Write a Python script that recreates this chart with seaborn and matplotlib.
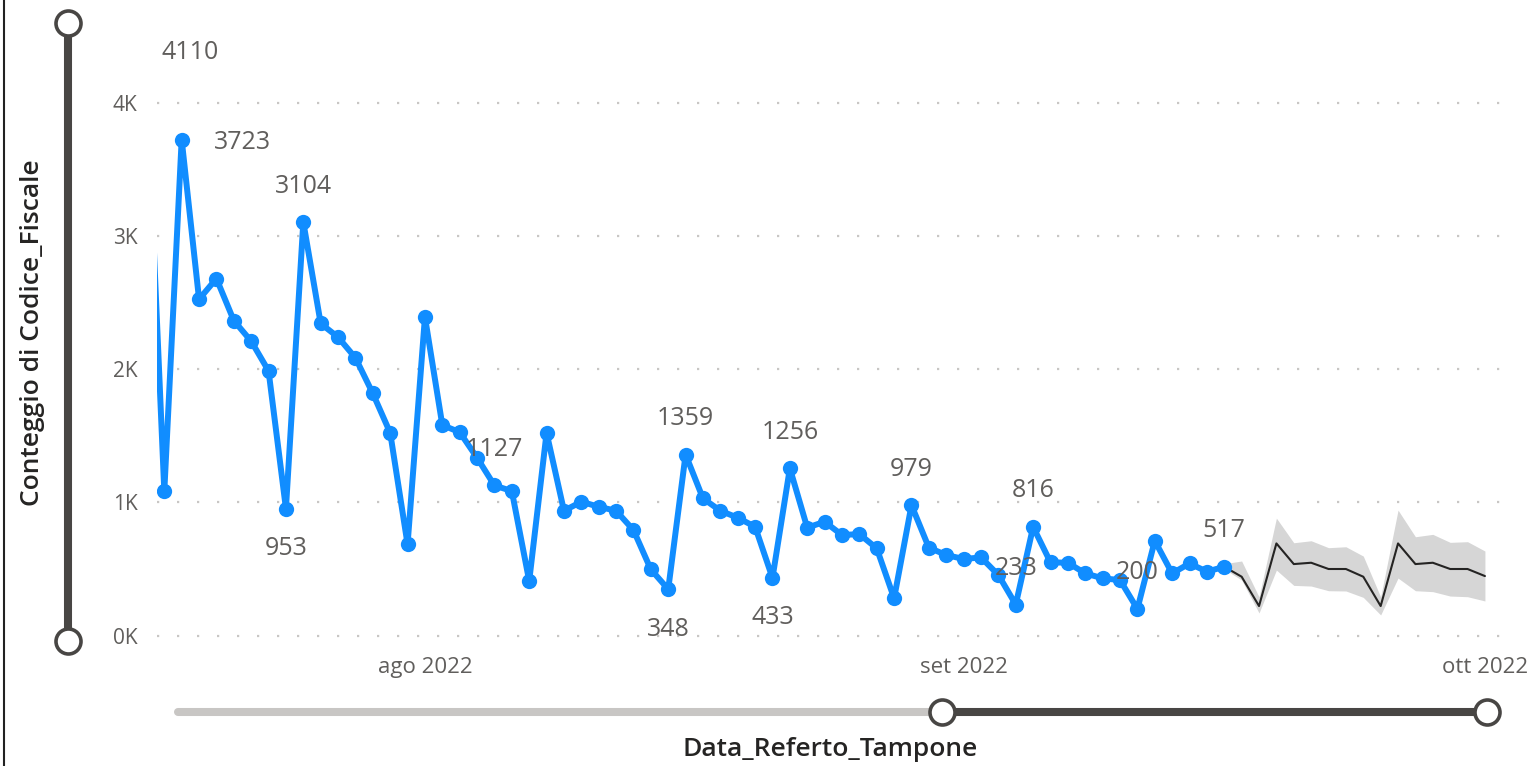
import matplotlib
matplotlib.use("Agg")
import matplotlib.pyplot as plt
import matplotlib.dates as mdates
import seaborn as sns
import pandas as pd
import numpy as np

# daily counts, 16 Jul -> 16 Sep 2022
counts = [4110, 1083, 3723, 2525, 2680, 2365, 2210, 1987, 953, 3104, 2343, 2240, 2085, 1818, 1522, 685,
          2392, 1580, 1527, 1335, 1127, 1085, 410, 1522, 937, 1005, 967, 937, 792, 497, 348, 1359,
          1030, 937, 885, 817, 433, 1256, 810, 855, 755, 762, 655, 280, 979, 660, 605,
          575, 587, 455, 233, 816, 550, 547, 467, 430, 417, 200, 712, 467, 542, 480, 517]
dates = pd.date_range("2022-07-16", periods=len(counts), freq="D")

# forecast 16 Sep -> 1 Oct 2022
fc_values = [517, 442, 222, 692, 537, 547, 500, 500, 442, 222, 692, 537, 547, 500, 500, 447]
fc_upper = [540, 560, 290, 882, 697, 712, 660, 667, 597, 290, 942, 742, 760, 700, 705, 635]
fc_lower = [500, 417, 170, 492, 377, 372, 337, 335, 287, 155, 432, 337, 330, 297, 292, 260]
fc_dates = pd.date_range("2022-09-16", periods=len(fc_values), freq="D")

# data labels shown on the chart
label_above = ["2022-07-25", "2022-08-05", "2022-08-16", "2022-08-22", "2022-08-29",
               "2022-09-04", "2022-09-05", "2022-09-11", "2022-09-16"]
label_below = ["2022-07-24", "2022-08-15", "2022-08-21"]

month_ticks = ["2022-08-01", "2022-09-01", "2022-10-01"]
month_labels = ["ago 2022", "set 2022", "ott 2022"]
y_ticks = [0, 1000, 2000, 3000, 4000]
y_labels = ["0K", "1K", "2K", "3K", "4K"]

df = pd.DataFrame({"Data_Referto_Tampone": dates, "Conteggio": counts})
fc = pd.DataFrame({"data": fc_dates, "val": fc_values, "lo": fc_lower, "hi": fc_upper})

sns.set_style("white")
plt.rcParams["font.family"] = ["Open Sans", "DejaVu Sans"]

W, H = 1532, 766
fig = plt.figure(figsize=(W / 100, H / 100), dpi=100)
ax = fig.add_axes([157 / W, 1 - 650 / H, (1503 - 157) / W, 630 / H])

blue = "#118DFF"
txt_grey = "#605E5C"

ax.fill_between(fc["data"], fc["lo"], fc["hi"], color="#d6d6d6", linewidth=0, zorder=1)
sns.lineplot(data=fc, x="data", y="val", ax=ax, color="#252423", linewidth=1.5, zorder=2)
sns.lineplot(data=df, x="Data_Referto_Tampone", y="Conteggio", ax=ax, color=blue,
             linewidth=4.3, marker="o", markersize=11, markeredgewidth=0, zorder=3)

day0 = mdates.date2num(pd.Timestamp("2022-08-01"))
ax.set_xlim(day0 - 15.42, day0 + 62.04)
ax.set_ylim(-108, 4621)

ax.set_yticks(y_ticks)
ax.set_yticklabels(y_labels)
ax.set_xticks(pd.to_datetime(month_ticks))
ax.set_xticklabels(month_labels)
ax.tick_params(axis="y", length=0, pad=14, labelsize=15, labelcolor=txt_grey)
ax.tick_params(axis="x", length=0, pad=5, labelsize=16, labelcolor=txt_grey)
ax.yaxis.grid(True, color="#c8c6c4", linestyle=(0, (1, 8)), linewidth=1.6)
ax.xaxis.grid(False)
sns.despine(ax=ax, left=True, bottom=True)
ax.set_xlabel("")
ax.set_ylabel("")

vals = df.set_index("Data_Referto_Tampone")["Conteggio"]
for d in label_above:
    t = pd.Timestamp(d)
    ax.annotate(str(vals[t]), (t, vals[t]), xytext=(0, 36), textcoords="offset pixels",
                ha="center", va="center", fontsize=18, color=txt_grey, zorder=4)
for d in label_below:
    t = pd.Timestamp(d)
    ax.annotate(str(vals[t]), (t, vals[t]), xytext=(0, -40), textcoords="offset pixels",
                ha="center", va="center", fontsize=18, color=txt_grey, zorder=4)
# peak labels pushed sideways
t = dates[0]
ax.annotate(str(vals[t]), (t, vals[t]), xytext=(43, 36), textcoords="offset pixels",
            ha="center", va="center", fontsize=18, color=txt_grey, annotation_clip=False)
t = dates[2]
ax.annotate(str(vals[t]), (t, vals[t]), xytext=(61, -3), textcoords="offset pixels",
            ha="center", va="center", fontsize=18, color=txt_grey)

# overlay in pixel coords for sliders, titles and frame
ov = fig.add_axes([0, 0, 1, 1], zorder=5)
ov.set_xlim(0, W)
ov.set_ylim(H, 0)
ov.axis("off")
ov.patch.set_alpha(0)

dark = "#484644"
light = "#c8c6c4"
ov.plot([4, 4], [0, H], color="#222222", linewidth=1.5)
ov.plot([68, 68], [23, 641], color=dark, linewidth=5.8, solid_capstyle="butt")
ov.plot([178, 942], [712, 712], color=light, linewidth=5.8, solid_capstyle="round")
ov.plot([942, 1487], [712, 712], color=dark, linewidth=5.8, solid_capstyle="butt")
ov.plot([68, 68, 942, 1487], [23, 641, 712, 712], linestyle="none", marker="o", markersize=18,
        markerfacecolor="white", markeredgecolor=dark, markeredgewidth=2.6)

ov.text(33, 333, "Conteggio di Codice_Fiscale", rotation=90, ha="center", va="center",
        fontsize=19, fontweight="semibold", color="#252423")
ov.text(830, 750, "Data_Referto_Tampone", ha="center", va="center",
        fontsize=19, fontweight="semibold", color="#252423")

fig.savefig("out.png", dpi=100)
